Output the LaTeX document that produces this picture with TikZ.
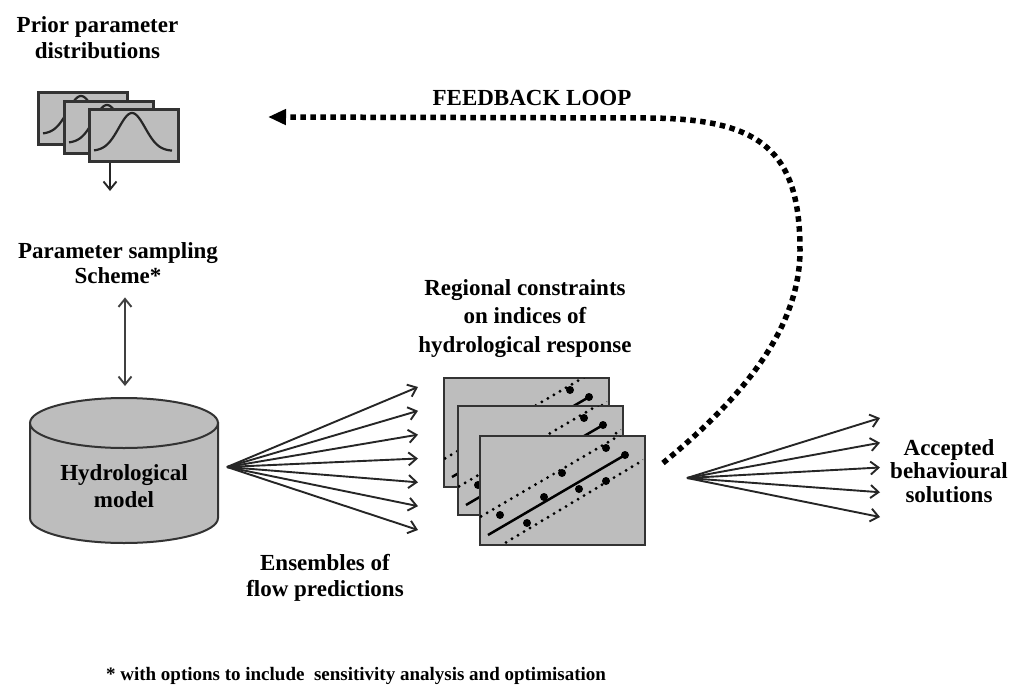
\documentclass[tikz,border=0pt]{standalone}
\usepackage{fontspec}
\setmainfont{Liberation Serif}
\usetikzlibrary{arrows.meta}
\definecolor{boxgray}{gray}{0.74}
\definecolor{edge}{gray}{0.2}
\newcommand\conscontent{%
  \clip (1,1) rectangle (164,108);
  \draw[dotline] (-10,88.4) -- (180,-22.5);
  \draw[dotline] (15,114.6) -- (180,15.6);
  \draw[fitline] (9,100) -- (146,20);
  \foreach \p in {(21,80),(48,88),(65,62),(83,38),(100,54),(127,46),(127,13),(146,20)}
    \fill \p circle[radius=4];
}
\newcommand\bellcurve{%
  \draw[bell] plot[domain=6:84,samples=60] (\x,{43-38*exp(-((\x-44)^2)/350)});
}
\begin{document}
\begin{tikzpicture}[x=1pt,y=-1pt,
  lbl/.style={font=\bfseries\fontsize{23}{25}\selectfont, align=center, inner sep=0pt, anchor=base},
  distbox/.style={draw=edge, line width=2.6pt, fill=boxgray, minimum width=89pt, minimum height=52pt, inner sep=0pt, anchor=north west},
  consbox/.style={draw=edge, line width=1.5pt, fill=boxgray, minimum width=165pt, minimum height=109pt, inner sep=0pt, anchor=north west},
  bell/.style={line width=2.2pt, draw=black!85},
  arr/.style={line width=1.9pt, draw=black!85, -{Straight Barb[length=8pt,width=13pt]}},
  darr/.style={line width=1.9pt, draw=black!75, {Straight Barb[length=8pt,width=13pt]}-{Straight Barb[length=8pt,width=13pt]}},
  feedback/.style={line width=5.5pt, dash pattern=on 5.5pt off 4.5pt, -{Triangle[length=18pt,width=15pt]}},
  dotline/.style={line width=3.2pt, line cap=round, dash pattern=on 0pt off 7pt},
  fitline/.style={line width=2.5pt},
]
\useasboundingbox (0,0) rectangle (1015,691);

% prior distributions
\node[distbox] (d1) at (37,91) {};
\begin{scope}[shift={(d1.north west)}]\bellcurve\end{scope}
\node[distbox] (d2) at (63,100) {};
\begin{scope}[shift={(d2.north west)}]\bellcurve\end{scope}
\node[distbox] (d3) at (88,108) {};
\begin{scope}[shift={(d3.north west)}]\bellcurve\end{scope}

\node[lbl, font=\bfseries\fontsize{23}{26}\selectfont] (prior) at (97.5,58) {Prior parameter\\distributions};

\coordinate (sampin) at (110,191);
\draw[arr] (d3.south -| sampin) -- (sampin);

\node[lbl] (sampling) at (118,283) {Parameter sampling\\Scheme*};
\coordinate (cyltop) at (125,386);
\draw[darr] ([yshift=-14pt]sampling.south -| cyltop) -- (cyltop);

% cylinder
\path[fill=boxgray, draw=edge, line width=2pt] (30,423) -- (30,518) arc[start angle=180, end angle=0, x radius=94, y radius=25] -- (218,423) -- cycle;
\path[fill=boxgray, draw=edge, line width=2pt] (124,423) ellipse[x radius=94, y radius=25];
\node[lbl, font=\bfseries\fontsize{23}{27}\selectfont] (model) at (124,507) {Hydrological\\model};

% fan of flow predictions
\coordinate (apex) at (227,467);
\foreach \i in {0,...,6} {
  \coordinate (f\i) at (418,{387+23.83*\i});
  \draw[arr] (apex) -- (f\i);
}
\node[lbl, font=\bfseries\fontsize{23}{26}\selectfont] (ens) at (325,596) {Ensembles of\\flow predictions};

% regional constraints
\node[lbl, font=\bfseries\fontsize{23}{28.5}\selectfont] (regional) at (525,352) {Regional constraints\\on indices of\\hydrological response};
\node[consbox] (c1) at (443,377) {};
\begin{scope}[shift={(c1.north west)}]\conscontent\end{scope}
\node[consbox] (c2) at (457,405) {};
\begin{scope}[shift={(c2.north west)}]\conscontent\end{scope}
\node[consbox] (c3) at (479,435) {};
\begin{scope}[shift={(c3.north west)}]\conscontent\end{scope}

% feedback loop
\coordinate (fbs) at (663,463);
\coordinate (fbe) at (268,117);
\draw[feedback] (fbs) .. controls (740,400) and (800,330) .. (800,250) .. controls (800,150) and (760,119) .. (650,118) -- (fbe);
\node[lbl] (fbl) at (532,105) {FEEDBACK LOOP};

% accepted solutions
\coordinate (rapex) at (687,478);
\foreach \i in {0,...,4} {
  \coordinate (r\i) at (880,{418+24.75*\i});
  \draw[arr] (rapex) -- (r\i);
}
\node[lbl, font=\bfseries\fontsize{23}{23.5}\selectfont] (acc) at (949,502) {Accepted\\behavioural\\solutions};

\node[lbl, font=\bfseries\fontsize{19}{22}\selectfont] (note) at (356,680) {* with options to include\ \ sensitivity analysis and optimisation};
\end{tikzpicture}
\end{document}
